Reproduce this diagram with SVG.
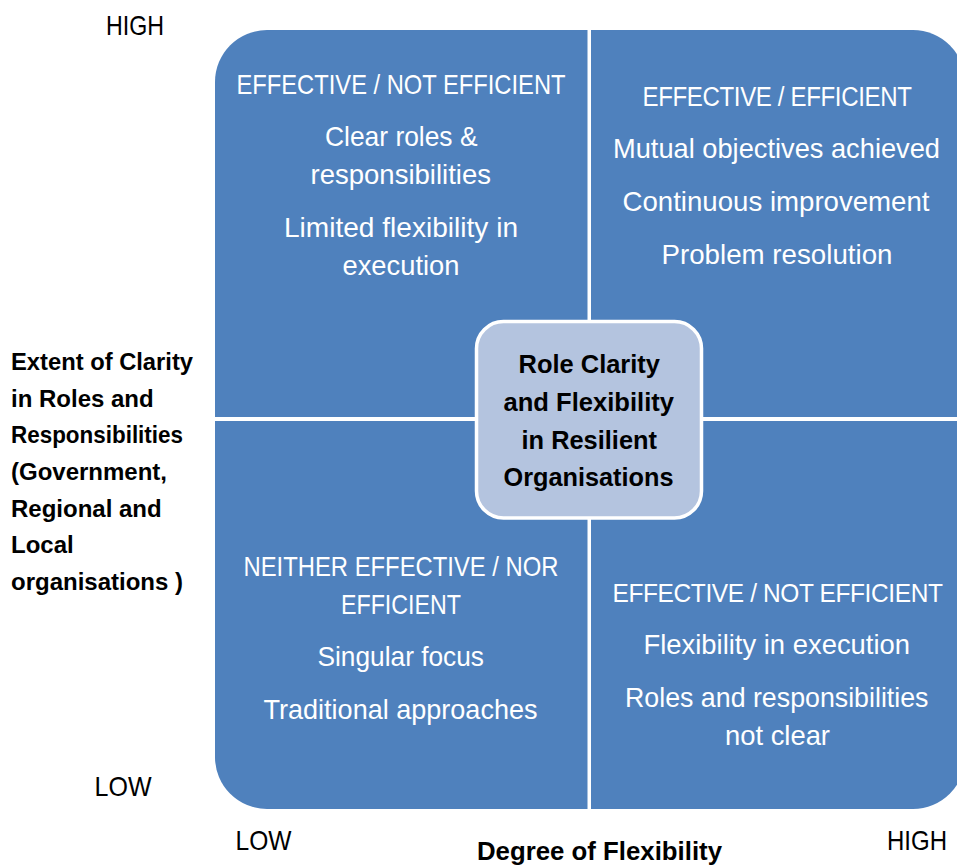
<svg xmlns="http://www.w3.org/2000/svg" width="957" height="868" viewBox="0 0 957 868">
<style>
.q{fill:#4F81BD;}
.w{font-family:"Liberation Sans",Arial,sans-serif;font-size:28px;fill:#FFFFFF;}
.c{font-family:"Liberation Sans",Arial,sans-serif;font-size:26.5px;font-weight:bold;fill:#000000;}
.l{font-family:"Liberation Sans",Arial,sans-serif;font-size:24px;font-weight:bold;fill:#000000;}
.a{font-family:"Liberation Sans",Arial,sans-serif;font-size:28px;fill:#000000;}
.ab{font-family:"Liberation Sans",Arial,sans-serif;font-size:26px;font-weight:bold;fill:#000000;}
</style>
<rect width="957" height="868" fill="#FFFFFF"/>
<g id="quadrant-top-left">
<path class="q" d="M215,417 V82 A52,52 0 0 1 267,30 H587.5 V417 Z"/>
<text class="w" x="236.5" y="93.5" textLength="329" lengthAdjust="spacingAndGlyphs">EFFECTIVE / NOT EFFICIENT</text>
<text class="w" x="325" y="146" textLength="152.5" lengthAdjust="spacingAndGlyphs">Clear roles &amp;</text>
<text class="w" x="310.5" y="183.5" textLength="180.5" lengthAdjust="spacingAndGlyphs">responsibilities</text>
<text class="w" x="284" y="236.5" textLength="234" lengthAdjust="spacingAndGlyphs">Limited flexibility in</text>
<text class="w" x="342.5" y="275" textLength="117" lengthAdjust="spacingAndGlyphs">execution</text>
</g>
<g id="quadrant-top-right">
<path class="q" d="M591,30 H913 A52,52 0 0 1 965,82 V417 H591 Z"/>
<text class="w" x="642.5" y="105.5" style="font-size:27px;letter-spacing:-0.4px" textLength="269" lengthAdjust="spacingAndGlyphs">EFFECTIVE / EFFICIENT</text>
<text class="w" x="613" y="158" textLength="327" lengthAdjust="spacingAndGlyphs">Mutual objectives achieved</text>
<text class="w" x="622.5" y="211" textLength="307" lengthAdjust="spacingAndGlyphs">Continuous improvement</text>
<text class="w" x="661.5" y="263.5" textLength="231" lengthAdjust="spacingAndGlyphs">Problem resolution</text>
</g>
<g id="quadrant-bottom-left">
<path class="q" d="M215,421 H587.5 V809 H267 A52,52 0 0 1 215,757 Z"/>
<text class="w" x="243.5" y="575.5" textLength="315" lengthAdjust="spacingAndGlyphs">NEITHER EFFECTIVE / NOR</text>
<text class="w" x="341" y="613.5" textLength="120" lengthAdjust="spacingAndGlyphs">EFFICIENT</text>
<text class="w" x="317.5" y="665.5" textLength="166.5" lengthAdjust="spacingAndGlyphs">Singular focus</text>
<text class="w" x="263.5" y="718.5" textLength="274" lengthAdjust="spacingAndGlyphs">Traditional approaches</text>
</g>
<g id="quadrant-bottom-right">
<path class="q" d="M591,421 H965 V757 A52,52 0 0 1 913,809 H591 Z"/>
<text class="w" x="612.5" y="601.5" style="font-size:25px;letter-spacing:-0.4px" textLength="330" lengthAdjust="spacingAndGlyphs">EFFECTIVE / NOT EFFICIENT</text>
<text class="w" x="643.5" y="653.5" textLength="266.5" lengthAdjust="spacingAndGlyphs">Flexibility in execution</text>
<text class="w" x="625" y="706.5" textLength="303.5" lengthAdjust="spacingAndGlyphs">Roles and responsibilities</text>
<text class="w" x="725" y="745" textLength="105" lengthAdjust="spacingAndGlyphs">not clear</text>
</g>
<g id="center">
<rect x="476.5" y="321.5" width="225" height="196.5" rx="27" ry="27" fill="#B4C4DF" stroke="#FFFFFF" stroke-width="3.5"/>
<text class="c" x="518.5" y="373" textLength="141.5" lengthAdjust="spacingAndGlyphs">Role Clarity</text>
<text class="c" x="503.5" y="411" textLength="170.5" lengthAdjust="spacingAndGlyphs">and Flexibility</text>
<text class="c" x="521.5" y="448.5" textLength="135.5" lengthAdjust="spacingAndGlyphs">in Resilient</text>
<text class="c" x="503.5" y="485.5" textLength="170" lengthAdjust="spacingAndGlyphs">Organisations</text>
</g>
<g id="y-axis-label">
<text class="l" x="11" y="370" textLength="182" lengthAdjust="spacingAndGlyphs">Extent of Clarity</text>
<text class="l" x="11" y="406.7">in Roles and</text>
<text class="l" x="11" y="443.3" textLength="172" lengthAdjust="spacingAndGlyphs">Responsibilities</text>
<text class="l" x="11" y="480">(Government,</text>
<text class="l" x="11" y="516.7">Regional and</text>
<text class="l" x="11" y="553.3">Local</text>
<text class="l" x="11" y="590">organisations )</text>
</g>
<g id="axis-ticks">
<text class="a" x="106" y="35" textLength="58" lengthAdjust="spacingAndGlyphs">HIGH</text>
<text class="a" x="94.5" y="796" textLength="57" lengthAdjust="spacingAndGlyphs">LOW</text>
<text class="a" x="235.5" y="850" textLength="56" lengthAdjust="spacingAndGlyphs">LOW</text>
<text class="a" x="887" y="850" textLength="60" lengthAdjust="spacingAndGlyphs">HIGH</text>
</g>
<g id="x-axis-label">
<text class="ab" x="477" y="860" textLength="245" lengthAdjust="spacingAndGlyphs">Degree of Flexibility</text>
</g>
</svg>
